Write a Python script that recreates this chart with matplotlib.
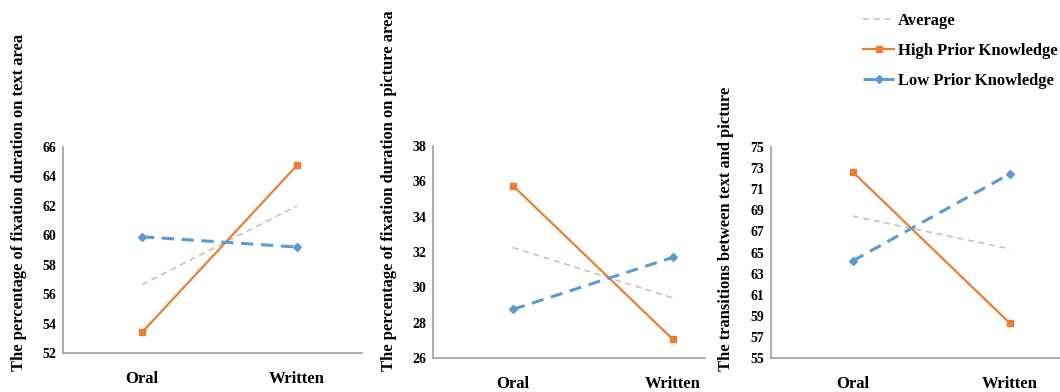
import matplotlib
matplotlib.use("Agg")
import matplotlib.pyplot as plt

plt.rcParams['font.family'] = ['Liberation Serif', 'DejaVu Serif']
plt.rcParams['font.weight'] = 'bold'

conditions = ["Oral", "Written"]

# panel 1: fixation duration on text area
text_high = [53.4, 64.75]
text_low = [59.9, 59.2]
text_avg = [56.65, 62.0]

# panel 2: fixation duration on picture area
pic_high = [35.75, 27.05]
pic_low = [28.75, 31.7]
pic_avg = [32.25, 29.4]

# panel 3: transitions between text and picture
trans_high = [72.65, 58.3]
trans_low = [64.2, 72.45]
trans_avg = [68.45, 65.35]

ylabels = ["The percentage of fixation duration on text area",
           "The percentage of fixation duration on picture area",
           "The transitions between text and picture"]

C_HIGH = '#ED7D31'
C_LOW = '#5B9BD5'
C_AVG = '#BFBFBF'

W, H = 1060, 392
fig = plt.figure(figsize=(W / 100, H / 100), dpi=100)

def px_axes(left, right, top, bottom):
    return fig.add_axes([left / W, 1 - bottom / H, (right - left) / W, (bottom - top) / H])

panels = [
    dict(box=(63, 362, 147, 353), data=(text_high, text_low, text_avg),
         ylim=(52, 66), step=2, xlim=(-0.51, 1.42), lab_x=19, lab=ylabels[0]),
    dict(box=(433, 705, 146, 358), data=(pic_high, pic_low, pic_avg),
         ylim=(26, 38), step=2, xlim=(-0.5, 1.2), lab_x=389, lab=ylabels[1]),
    dict(box=(771, 1060, 147, 358), data=(trans_high, trans_low, trans_avg),
         ylim=(55, 75), step=2, xlim=(-0.52, 1.32), lab_x=726, lab=ylabels[2]),
]

handles = None
for p in panels:
    ax = px_axes(*p['box'])
    high, low, avg = p['data']
    x = range(len(conditions))
    h_avg, = ax.plot(x, avg, color=C_AVG, lw=1.1, ls=(0, (4, 3)), label='Average')
    h_high, = ax.plot(x, high, color=C_HIGH, lw=1.6, marker='s', ms=5, label='High Prior Knowledge')
    h_low, = ax.plot(x, low, color=C_LOW, lw=2.2, ls=(0, (4, 2.5)), marker='D', ms=4,
                     label='Low Prior Knowledge')
    handles = [h_avg, h_high, h_low]
    lo, hi = p['ylim']
    ax.set_ylim(lo, hi)
    ax.set_yticks(range(lo, hi + 1, p['step']))
    ax.set_xlim(*p['xlim'])
    ax.set_xticks(list(x))
    ax.set_xticklabels(conditions, fontsize=12, fontweight='bold')
    ax.tick_params(axis='y', length=0, labelsize=10, pad=5)
    ax.tick_params(axis='x', length=0, pad=13)
    for s in ('top', 'right'):
        ax.spines[s].set_visible(False)
    for s in ('left', 'bottom'):
        ax.spines[s].set_color('#A6A6A6')
        ax.spines[s].set_linewidth(1.3)
    fig.text(p['lab_x'] / W, 1 - 371 / H, p['lab'], rotation=90, ha='center', va='bottom',
             fontsize=11.9, fontweight='bold')

fig.legend(handles=handles, loc='upper left', bbox_to_anchor=(856 / W, 1 - 6 / H),
           frameon=False, fontsize=12, handlelength=1.9, handletextpad=0.2,
           labelspacing=0.85, borderaxespad=0)

fig.savefig("out.png", dpi=100)
